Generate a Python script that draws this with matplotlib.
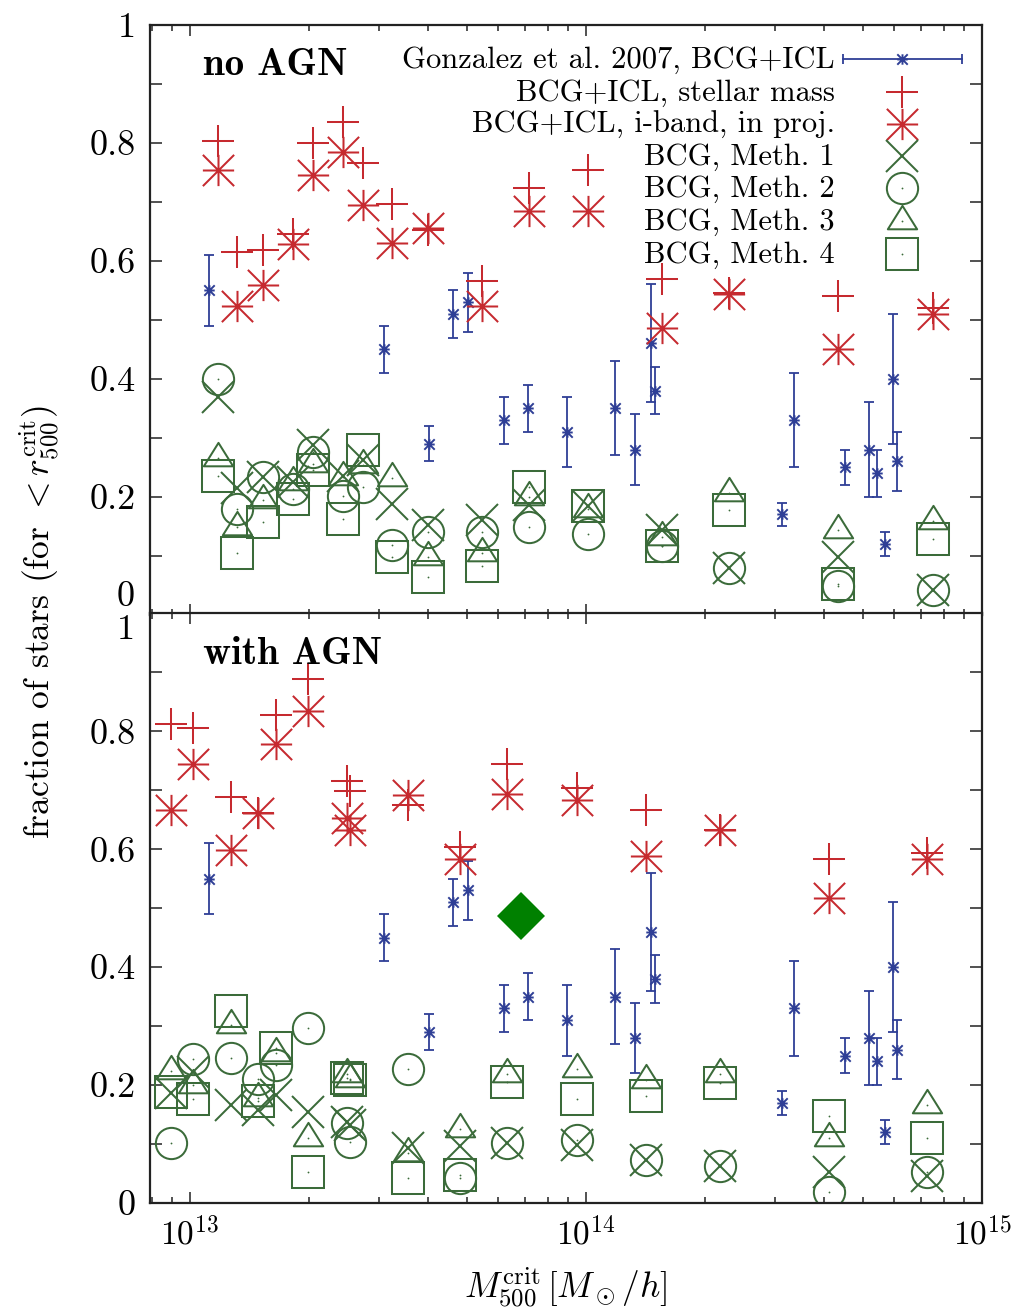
import numpy as np
import matplotlib
matplotlib.use("Agg")
import matplotlib.pyplot as plt
from matplotlib.path import Path
from matplotlib.ticker import FixedLocator, FixedFormatter, LogLocator, NullFormatter

plt.rcParams['font.family'] = ['cmr10', 'DejaVu Serif']
plt.rcParams['mathtext.fontset'] = 'cm'
plt.rcParams['axes.formatter.use_mathtext'] = True
plt.rcParams['font.size'] = 22

# ---------------- data ----------------
# Gonzalez et al. 2007 (same in both panels)
gonz_mass = [1.12e13, 3.10e13, 4.01e13, 4.61e13, 5.05e13, 6.22e13, 7.13e13, 8.98e13,
             1.186e14, 1.332e14, 1.459e14, 1.496e14, 3.12e14, 3.35e14, 4.51e14,
             5.19e14, 5.44e14, 5.69e14, 5.95e14, 6.11e14]
gonz_frac = [0.55, 0.45, 0.29, 0.51, 0.53, 0.33, 0.35, 0.31, 0.35, 0.28, 0.46, 0.38,
             0.17, 0.33, 0.25, 0.28, 0.24, 0.12, 0.40, 0.26]
gonz_lo = [0.49, 0.41, 0.26, 0.47, 0.48, 0.29, 0.31, 0.25, 0.27, 0.22, 0.36, 0.34,
           0.15, 0.25, 0.22, 0.20, 0.20, 0.10, 0.29, 0.21]
gonz_hi = [0.61, 0.49, 0.32, 0.55, 0.58, 0.37, 0.39, 0.37, 0.43, 0.34, 0.56, 0.42,
           0.19, 0.41, 0.28, 0.36, 0.28, 0.14, 0.51, 0.31]

# no AGN simulations
noagn_mass = [1.179e13, 1.316e13, 1.531e13, 1.824e13, 2.048e13, 2.441e13, 2.739e13, 3.243e13,
              3.985e13, 5.463e13, 7.193e13, 1.013e14, 1.553e14, 2.297e14, 4.321e14, 7.508e14]
noagn_stellar = [0.803, 0.615, 0.618, 0.645, 0.800, 0.835, 0.766, 0.696,
                 0.652, 0.566, 0.724, 0.754, 0.570, 0.545, 0.540, 0.520]
noagn_iband = [0.754, 0.523, 0.559, 0.628, 0.745, 0.785, 0.694, 0.630,
               0.656, 0.523, 0.685, 0.685, 0.487, 0.543, 0.450, 0.510]
noagn_meth1 = [0.370, 0.215, 0.234, 0.225, 0.288, 0.235, 0.263, 0.187,
               0.152, 0.160, 0.186, 0.185, 0.143, 0.079, 0.098, 0.042]
noagn_meth2 = [0.399, 0.179, 0.234, 0.214, 0.276, 0.201, 0.217, 0.118,
               0.141, 0.141, 0.148, 0.137, 0.116, 0.079, 0.049, 0.042]
noagn_meth3 = [0.265, 0.149, 0.194, 0.225, 0.255, 0.234, 0.254, 0.231,
               0.098, 0.104, 0.199, 0.180, 0.132, 0.207, 0.144, 0.159]
noagn_meth4 = [0.235, 0.104, 0.158, 0.196, 0.245, 0.162, 0.280, 0.098,
               0.064, 0.083, 0.217, 0.185, 0.116, 0.178, 0.052, 0.129]

# with AGN simulations
agn_mass = [8.94e12, 1.019e13, 1.269e13, 1.488e13, 1.649e13, 1.989e13, 2.487e13, 2.535e13,
            3.558e13, 4.807e13, 6.318e13, 9.473e13, 1.418e14, 2.180e14, 4.116e14, 7.252e14]
agn_stellar = [0.812, 0.806, 0.689, 0.662, 0.827, 0.888, 0.716, 0.699,
               0.675, 0.604, 0.745, 0.703, 0.666, 0.633, 0.584, 0.593]
agn_iband = [0.666, 0.744, 0.598, 0.662, 0.778, 0.835, 0.653, 0.632,
             0.692, 0.584, 0.693, 0.684, 0.588, 0.633, 0.517, 0.583]
agn_meth1 = [0.186, 0.222, 0.166, 0.158, 0.183, 0.154, 0.138, 0.133,
             0.093, 0.096, 0.101, 0.098, 0.073, 0.062, 0.053, 0.045]
agn_meth2 = [0.101, 0.245, 0.246, 0.211, 0.234, 0.296, 0.136, 0.104,
             0.228, 0.043, 0.101, 0.107, 0.073, 0.062, 0.018, 0.053]
agn_meth3 = [0.224, 0.200, 0.302, 0.178, 0.255, 0.111, 0.218, 0.211,
             0.084, 0.125, 0.218, 0.227, 0.209, 0.218, 0.110, 0.167]
agn_meth4 = [0.188, 0.177, 0.325, 0.173, 0.263, 0.053, 0.212, 0.209,
             0.042, 0.048, 0.206, 0.177, 0.181, 0.204, 0.147, 0.110]

diamond_mass = [6.86e13]
diamond_frac = [0.487]

ytick_values = [0.0, 0.1, 0.2, 0.3, 0.4, 0.5, 0.6, 0.7, 0.8, 0.9, 1.0]
ytick_labels = ['0', '', '0.2', '', '0.4', '', '0.6', '', '0.8', '', '1']
xtick_values = [1e13, 1e14, 1e15]
xtick_labels = [r'$10^{13}$', r'$10^{14}$', r'$10^{15}$']

legend_labels = ['Gonzalez et al. 2007, BCG+ICL', 'BCG+ICL, stellar mass',
                 'BCG+ICL, i-band, in proj.', 'BCG, Meth. 1', 'BCG, Meth. 2',
                 'BCG, Meth. 3', 'BCG, Meth. 4']

# ---------------- styles ----------------
RED = '#c62a2f'
BLUE = '#2f3f96'
GREEN = '#3b6b3a'
DIAMOND = '#008000'
FRAME = '#222222'
YTICK_FS = 26
XTICK_FS = 24
LABEL_FS = 25.5

M, L, C = Path.MOVETO, Path.LINETO, Path.CLOSEPOLY
star = Path([(-1, 0), (1, 0), (0, -1), (0, 1), (-1, -1), (1, 1), (-1, 1), (1, -1)],
            [M, L, M, L, M, L, M, L])
tri = Path([(0, 16), (-15, -8), (15, -8), (0, 16)], [M, L, L, C])

MS = 22.5
LW = 1.45

fig = plt.figure(figsize=(10.22, 13.14), dpi=100)
W, H = 1022.0, 1314.0
ax1 = fig.add_axes([150 / W, 1 - 614.7 / H, 832 / W, 589.7 / H])
ax2 = fig.add_axes([150 / W, 1 - 1203 / H, 832 / W, 589.7 / H])


def pts(ax, x, y, marker, color, ms=MS, dot=False):
    ax.plot(x, y, ls='none', marker=marker, ms=ms, mec=color, mfc='none', mew=LW)
    if dot:
        ax.plot(x, y, ls='none', marker='o', ms=1.3, mfc=color, mec=color, mew=0)


def gonzalez(ax):
    f = np.array(gonz_frac)
    yerr = [f - np.array(gonz_lo), np.array(gonz_hi) - f]
    ax.errorbar(gonz_mass, gonz_frac, yerr=yerr, fmt='none', ecolor=BLUE,
                elinewidth=1.3, capsize=3.8, capthick=1.3)
    ax.plot(gonz_mass, gonz_frac, ls='none', marker=star, ms=7.5, mec=BLUE,
            mfc='none', mew=1.4)


def panel(ax, mass, stellar, iband, m1, m2, m3, m4):
    gonzalez(ax)
    pts(ax, mass, stellar, '+', RED)
    pts(ax, mass, iband, star, RED)
    pts(ax, mass, m1, 'x', GREEN)
    pts(ax, mass, m2, 'o', GREEN, dot=True)
    pts(ax, mass, m3, tri, GREEN, dot=True)
    pts(ax, mass, m4, 's', GREEN, dot=True)


panel(ax1, noagn_mass, noagn_stellar, noagn_iband,
      noagn_meth1, noagn_meth2, noagn_meth3, noagn_meth4)
panel(ax2, agn_mass, agn_stellar, agn_iband,
      agn_meth1, agn_meth2, agn_meth3, agn_meth4)
ax2.plot(diamond_mass, diamond_frac, ls='none', marker='D', ms=24, mfc=DIAMOND,
         mec=DIAMOND, mew=0)

for ax in (ax1, ax2):
    ax.set_xscale('log')
    ax.set_xlim(7.93e12, 1e15)
    ax.set_ylim(0, 1)
    ax.xaxis.set_major_locator(FixedLocator(xtick_values))
    ax.xaxis.set_minor_locator(LogLocator(base=10, subs=np.arange(2, 10)))
    ax.xaxis.set_minor_formatter(NullFormatter())
    ax.yaxis.set_major_locator(FixedLocator(ytick_values))
    ax.tick_params(which='both', direction='in', top=True, right=True,
                   color=FRAME, width=1.1)
    ax.tick_params(axis='y', which='major', length=8.6, pad=10, labelsize=YTICK_FS)
    ax.tick_params(axis='x', which='major', length=8.0, pad=9, labelsize=XTICK_FS)
    ax.tick_params(axis='x', which='minor', length=4.0)
    for s in ax.spines.values():
        s.set_linewidth(1.6)
        s.set_color(FRAME)

ax1.xaxis.set_major_formatter(NullFormatter())
ax2.xaxis.set_major_formatter(FixedFormatter(xtick_labels))

# shifted end labels so they don't collide at the panel joint
lab1 = list(ytick_labels); lab1[0] = ''
ax1.yaxis.set_major_formatter(FixedFormatter(lab1))
lab2 = list(ytick_labels); lab2[-1] = ''
ax2.yaxis.set_major_formatter(FixedFormatter(lab2))
ax1.text(-0.018, 0.0147, ytick_labels[0], transform=ax1.get_yaxis_transform(),
         ha='right', va='baseline', fontsize=YTICK_FS)
ax2.text(-0.018, 0.9559, ytick_labels[-1], transform=ax2.get_yaxis_transform(),
         ha='right', va='baseline', fontsize=YTICK_FS)

# panel titles
ax1.text(0.0637, 0.9152, 'no AGN', family='cmb10', fontsize=28,
         transform=ax1.transAxes, ha='left', va='baseline')
ax2.text(0.0637, 0.9135, 'with AGN', family='cmb10', fontsize=28,
         transform=ax2.transAxes, ha='left', va='baseline')

# legend (drawn manually, right-justified like gnuplot)
rows = [0.9418, 0.8869, 0.8321, 0.7779, 0.7231, 0.6676, 0.6112]
tx, sx = 0.8233, 0.9035
for r, lab in zip(rows, legend_labels):
    ax1.text(tx, r - 0.0153, lab, transform=ax1.transAxes, ha='right', va='baseline')
tr = ax1.transAxes
ax1.plot([0.8325, 0.9756], [rows[0], rows[0]], color=BLUE, lw=1.3, transform=tr)
ax1.plot([0.8325, 0.9756], [rows[0], rows[0]], ls='none', marker='|', ms=7.5,
         mec=BLUE, mew=1.3, transform=tr)
ax1.plot([sx], [rows[0]], ls='none', marker=star, ms=7.5, mec=BLUE, mew=1.4, transform=tr)
ax1.plot([sx], [rows[1]], ls='none', marker='+', ms=MS, mec=RED, mew=LW, transform=tr)
ax1.plot([sx], [rows[2]], ls='none', marker=star, ms=MS, mec=RED, mew=LW, transform=tr)
ax1.plot([sx], [rows[3]], ls='none', marker='x', ms=MS, mec=GREEN, mew=LW, transform=tr)
for r, mk in zip(rows[4:], ['o', tri, 's']):
    ax1.plot([sx], [r], ls='none', marker=mk, ms=MS, mec=GREEN, mfc='none', mew=LW,
             transform=tr)
    ax1.plot([sx], [r], ls='none', marker='o', ms=1.3, mfc=GREEN, mew=0, transform=tr)

# axis labels
fig.text(50 / W, 1 - 622 / H, r'fraction of stars (for $< r_{500}^{\rm crit}$)',
         rotation=90, rotation_mode='anchor', ha='center', va='baseline',
         fontsize=LABEL_FS)
fig.text(566 / W, 1 - 1298 / H, r'$M_{500}^{\rm crit}\,[M_\odot/h]$',
         ha='center', va='baseline', fontsize=LABEL_FS)

fig.savefig('out.png', dpi=100)
